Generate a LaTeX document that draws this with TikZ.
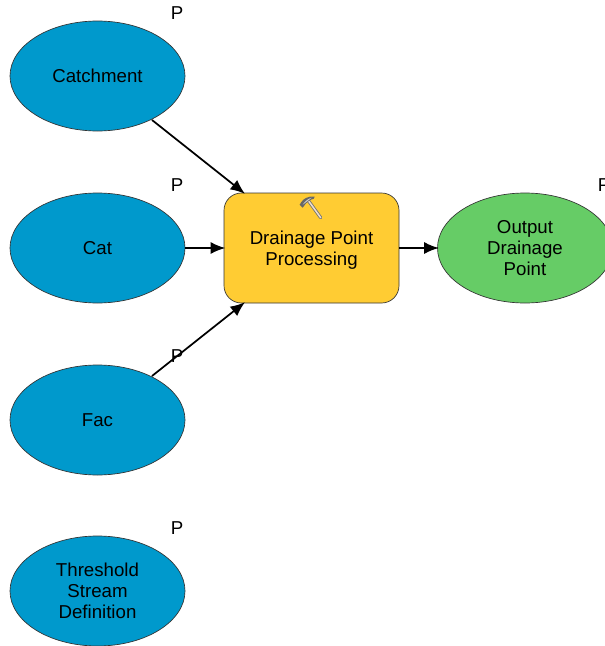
\documentclass[tikz,border=0pt]{standalone}
\usepackage{fontspec}
\setmainfont{Liberation Sans}
\usetikzlibrary{shapes.geometric,arrows.meta}
\definecolor{blueE}{RGB}{0,153,204}
\definecolor{greenE}{RGB}{102,204,102}
\definecolor{yellowE}{RGB}{255,204,51}
\tikzset{x=0.75pt,y=-0.75pt,
 dataell/.style={ellipse,draw=black!80,line width=0.5pt,fill=blueE,minimum width=131.25pt,minimum height=82.5pt,inner sep=0pt,outer sep=0pt,align=center,font=\fontsize{14}{15.75}\selectfont},
 outell/.style={dataell,fill=greenE},
 toolbox/.style={rectangle,rounded corners=13pt,draw=black!80,line width=0.5pt,fill=yellowE,minimum width=131.25pt,minimum height=82.5pt,inner sep=0pt,outer sep=0pt,align=center,font=\fontsize{14}{15.75}\selectfont},
 plabel/.style={inner sep=0pt,font=\fontsize{14}{16}\selectfont},
 conn/.style={draw=black,line width=1.3pt,shorten >=-1pt,-{Latex[length=11pt,width=9pt]}}}
\begin{document}
\begin{tikzpicture}
\useasboundingbox (0,0) rectangle (605,646);
\node[dataell] (catch) at (97.5,76) {Catchment};
\node[dataell] (cat) at (97.5,248) {Cat};
\node[dataell] (fac) at (97.5,420) {Fac};
\node[dataell] (thr) at (97.5,591) {Threshold\\Stream\\Definition};
\node[toolbox] (proc) at (311.5,248) {\raisebox{-1.3pt}[\height][\depth]{Drainage Point}\\\raisebox{-1.3pt}[\height][\depth]{Processing}};
\node[outell] (out) at (525,248) {Output\\Drainage\\Point};
\node[plabel] (p1) at (177,13) {P};
\node[plabel] (p2) at (177,185) {P};
\node[plabel] (p3) at (177,356) {P};
\node[plabel] (p4) at (177,528) {P};
\node[plabel] (p5) at (604,185) {P};
\coordinate (cs) at (152,120);
\coordinate (ct) at (244,193);
\coordinate (fs) at (152,376);
\coordinate (ft) at (244,303);
\draw[conn] (cs) -- (ct);
\draw[conn] (cat.east) -- (proc.west);
\draw[conn] (fs) -- (ft);
\draw[conn] (proc.east) -- (out.west);
\node[inner sep=0pt] (ham) at (311,208) {\tikz[x=0.75pt,y=-0.75pt]{
 \draw[line width=2.4pt,color=black!55,line cap=round] (-3,-8) -- (10,10);
 \draw[line width=1.1pt,color=brown!25!white,line cap=round] (-3,-8) -- (10,10);
 \fill[black!60] (-11,-3) .. controls (-9,-7) and (-6,-10) .. (-1,-11) -- (4,-11) -- (3,-9) .. controls (-1,-8) and (-3,-6) .. (-5,-4) -- (-8,0) -- cycle;
 \fill[black!20] (-8,-3) .. controls (-6,-6) and (-3,-9) .. (1,-10) -- (-4,-6) -- cycle;
}};
\end{tikzpicture}
\end{document}
